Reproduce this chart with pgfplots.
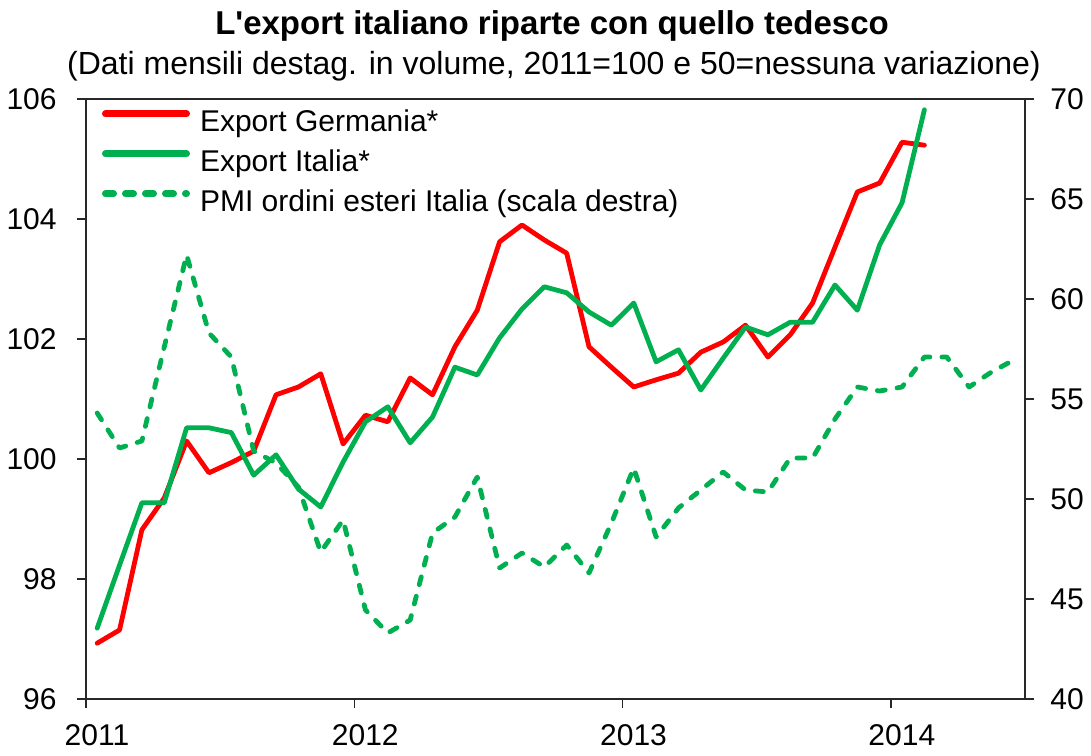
\documentclass[border=0pt]{standalone}
\usepackage{fontspec}
\setmainfont{Liberation Sans}
\usepackage{pgfplots}
\pgfplotsset{compat=1.18}
\definecolor{xlgreen}{RGB}{0,176,80}
\definecolor{xlred}{RGB}{255,0,0}
\definecolor{axisgray}{RGB}{40,40,40}

\pgfplotstableread{
m ger ita
0 96.93 97.18
1 97.15 98.23
2 98.82 99.27
3 99.35 99.27
4 100.30 100.52
5 99.77 100.52
6 99.94 100.44
7 100.13 99.73
8 101.07 100.07
9 101.20 99.50
10 101.42 99.20
11 100.25 99.95
12 100.73 100.62
13 100.62 100.87
14 101.35 100.27
15 101.07 100.70
16 101.87 101.53
17 102.48 101.40
18 103.62 102.02
19 103.90 102.50
20 103.65 102.87
21 103.43 102.77
22 101.87 102.45
23 101.53 102.23
24 101.20 102.60
25 101.32 101.62
26 101.43 101.82
27 101.78 101.15
28 101.95 101.68
29 102.23 102.20
30 101.70 102.07
31 102.07 102.28
32 102.60 102.28
33 103.53 102.90
34 104.45 102.48
35 104.60 103.57
36 105.28 104.27
37 105.23 105.82
}\exportdata

\pgfplotstableread{
m pmi
0 54.3
1 52.55
2 52.9
3 57.6
4 62.2
5 58.3
6 57.1
7 52.4
8 51.8
9 50.6
10 47.35
11 48.95
12 44.45
13 43.3
14 43.95
15 48.3
16 49.1
17 51.1
18 46.55
19 47.3
20 46.6
21 47.7
22 46.3
23 48.8
24 51.55
25 48.1
26 49.55
27 50.45
28 51.35
29 50.45
30 50.35
31 52.05
32 52.05
33 54.0
34 55.6
35 55.4
36 55.6
37 57.1
38 57.1
39 55.6
40 56.35
41 56.95
}\pmidata

\begin{document}
\begin{tikzpicture}
\useasboundingbox (0,0) rectangle (545.5bp,378bp);
\node[anchor=base, inner sep=0pt, font=\fontsize{16.5bp}{18bp}\selectfont\bfseries] at (276bp,360.5bp) {L\textquotesingle export italiano riparte con quello tedesco};
\node[anchor=base, inner sep=0pt, font=\fontsize{16bp}{18bp}\selectfont] at (277bp,340.5bp) {(Dati mensili destag. in volume, 2011=100 e 50=nessuna variazione)};

\begin{axis}[
  at={(43bp,28.5bp)}, anchor=south west,
  scale only axis, width=469.5bp, height=300bp,
  xmin=-0.5, xmax=41.5, ymin=96, ymax=106,
  xtick={-0.5,11.5,23.5,35.5}, xticklabels={2011,2012,2013,2014},
  ytick={96,98,...,106},
  tick align=outside, tick pos=left, major tick length=4.5bp,
  axis line style={line width=0.75bp, axisgray},
  every tick/.style={line width=0.75bp, axisgray},
  ticklabel style={font=\fontsize{15bp}{17bp}\selectfont, inner sep=0pt},
  /pgf/number format/assume math mode=true,
  xticklabel style={xshift=5.5bp, yshift=-8bp},
  yticklabel style={xshift=-10bp},
  legend style={at={(0,1)}, anchor=north west, xshift=8bp, yshift=-5.5bp,
    draw=none, fill=none, inner sep=0pt, outer sep=0pt,
    row sep=6bp, column sep=5bp,
    font=\fontsize{15bp}{17bp}\selectfont,
    nodes={inner sep=0pt, text height=11bp, text depth=3bp}},
  legend cell align=left,
  legend image code/.code={\draw[#1, line width=3.5bp] (0bp,5bp) -- (40.5bp,5bp);},
]
\addplot[xlred, line width=2.4bp, line cap=round, line join=round] table[x=m, y=ger] {\exportdata};
\addlegendentry{Export Germania*}
\addplot[xlgreen, line width=2.4bp, line cap=round, line join=round] table[x=m, y=ita] {\exportdata};
\addlegendentry{Export Italia*}
\addlegendimage{xlgreen, line cap=round, dash pattern=on 4bp off 6bp}
\addlegendentry{PMI ordini esteri Italia (scala destra)}
\end{axis}

\begin{axis}[
  at={(43bp,28.5bp)}, anchor=south west,
  scale only axis, width=469.5bp, height=300bp,
  xmin=-0.5, xmax=41.5, ymin=40, ymax=70,
  axis x line=none, axis y line*=right,
  ytick={40,45,...,70},
  tick align=outside, major tick length=4.5bp,
  axis line style={line width=0.75bp, axisgray},
  every tick/.style={line width=0.75bp, axisgray},
  ticklabel style={font=\fontsize{15bp}{17bp}\selectfont, inner sep=0pt},
  /pgf/number format/assume math mode=true,
  yticklabel style={xshift=8bp},
]
\addplot[xlgreen, line width=2.4bp, line cap=round, line join=round, dash pattern=on 4bp off 6bp] table[x=m, y=pmi] {\pmidata};
\end{axis}
\end{tikzpicture}
\end{document}
